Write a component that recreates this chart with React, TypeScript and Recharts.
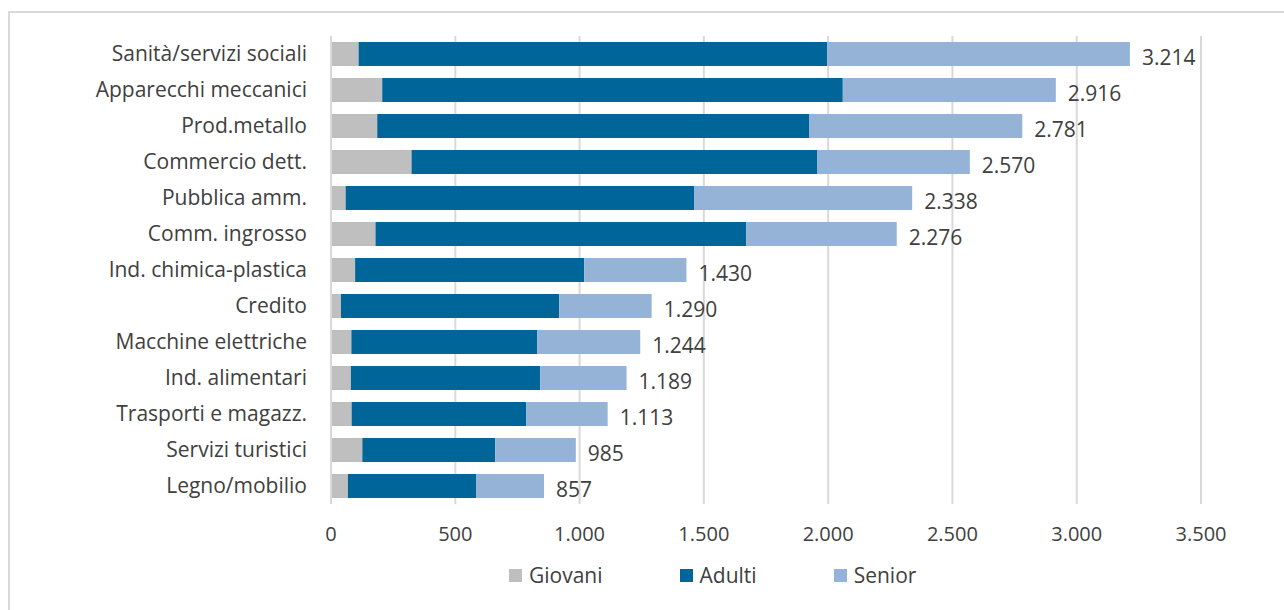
import { BarChart, Bar, XAxis, YAxis, CartesianGrid, Legend, LabelList } from "recharts";

const FONT = "'Open Sans', 'Noto Sans', sans-serif";
const TEXT = "#404040";
const GRID = "#d9d9d9";

const categories = [
  "Sanità/servizi sociali",
  "Apparecchi meccanici",
  "Prod.metallo",
  "Commercio dett.",
  "Pubblica amm.",
  "Comm. ingrosso",
  "Ind. chimica-plastica",
  "Credito",
  "Macchine elettriche",
  "Ind. alimentari",
  "Trasporti e magazz.",
  "Servizi turistici",
  "Legno/mobilio",
];
const giovani = [111, 206, 186, 324, 59, 179, 97, 40, 82, 80, 83, 126, 68];
const adulti = [1885, 1853, 1737, 1633, 1403, 1492, 922, 878, 747, 762, 703, 535, 517];
const senior = [1218, 857, 858, 613, 876, 605, 411, 372, 415, 347, 327, 324, 272];
const totals = [3214, 2916, 2781, 2570, 2338, 2276, 1430, 1290, 1244, 1189, 1113, 985, 857];
const xTicks = [0, 500, 1000, 1500, 2000, 2500, 3000, 3500];

const series = [
  { key: "giovani", name: "Giovani", color: "#bfbfbf" },
  { key: "adulti", name: "Adulti", color: "#006699" },
  { key: "senior", name: "Senior", color: "#95b3d7" },
];

const data = categories.map((name, i) => ({
  name,
  giovani: giovani[i],
  adulti: adulti[i],
  senior: senior[i],
  total: totals[i],
}));

// italian thousands separator
const fmt = (v: number) => String(v).replace(/\B(?=(\d{3})+(?!\d))/g, ".");

function TotalLabel(props: any) {
  const vb = props.viewBox || props;
  const x = Number(vb.x) + Number(vb.width);
  const y = Number(vb.y) + Number(vb.height) / 2;
  return (
    <text
      x={x + 12}
      y={y + 3}
      fill={TEXT}
      fontSize={21}
      fontFamily={FONT}
      textAnchor="start"
      dominantBaseline="central"
    >
      {fmt(Number(props.value))}
    </text>
  );
}

function LegendBox() {
  return (
    <div style={{ display: "flex", alignItems: "center", height: 26, fontFamily: FONT, fontSize: 21, color: TEXT }}>
      {series.map((s, i) => (
        <div key={s.key} style={{ display: "flex", alignItems: "center", marginRight: i < 2 ? 77 : 0 }}>
          <span style={{ width: 13, height: 13, background: s.color, display: "inline-block", marginRight: 7 }} />
          <span>{s.name}</span>
        </div>
      ))}
    </div>
  );
}

export default function App() {
  return (
    <div
      style={{
        position: "absolute",
        left: 0,
        top: 0,
        width: 1284,
        height: 610,
        overflow: "hidden",
        background: "#ffffff",
      }}
    >
      <div
        style={{
          position: "absolute",
          left: 8,
          top: 11,
          width: 1300,
          height: 640,
          border: `2px solid ${GRID}`,
        }}
      />
      <BarChart
        width={1284}
        height={610}
        data={data}
        layout="vertical"
        barCategoryGap="33%"
        margin={{ top: 36, right: 83, bottom: 40, left: 0 }}
        style={{ position: "absolute", left: 0, top: 0 }}
      >
        <CartesianGrid horizontal={false} stroke={GRID} strokeWidth={2} />
        <XAxis
          type="number"
          domain={[0, 3500]}
          ticks={xTicks}
          tickFormatter={fmt}
          axisLine={false}
          tickLine={false}
          tickSize={0}
          tickMargin={23}
          height={40}
          tick={{ fill: TEXT, fontSize: 20, fontFamily: FONT }}
        />
        <YAxis
          type="category"
          dataKey="name"
          width={331}
          axisLine={{ stroke: GRID, strokeWidth: 2 }}
          tickLine={false}
          tickSize={0}
          tickMargin={24}
          interval={0}
          tick={{ fill: TEXT, fontSize: 21, fontFamily: FONT }}
        />
        <Legend
          verticalAlign="bottom"
          content={<LegendBox />}
          wrapperStyle={{ position: "absolute", left: 509, top: 562, width: "auto" }}
        />
        {series.map((s) => (
          <Bar
            key={s.key}
            dataKey={s.key}
            name={s.name}
            stackId="a"
            fill={s.color}
            barSize={24}
            isAnimationActive={false}
          >
            {s.key === "senior" ? <LabelList dataKey="total" content={<TotalLabel />} /> : null}
          </Bar>
        ))}
      </BarChart>
    </div>
  );
}
